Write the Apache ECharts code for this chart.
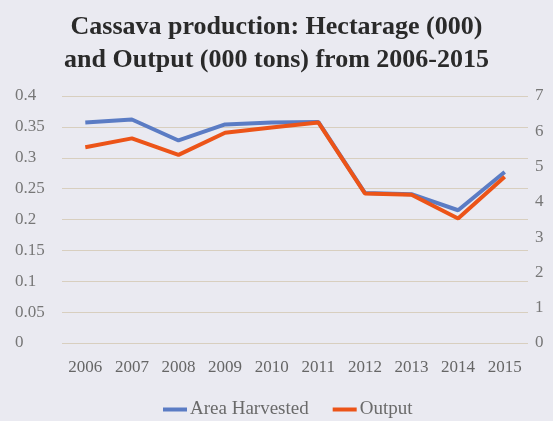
<!DOCTYPE html>
<html><head><meta charset="utf-8">
<script src="https://cdn.jsdelivr.net/npm/echarts@6/dist/echarts.min.js"></script>
<style>html,body{margin:0;padding:0;background:#eaeaf1;}#c{width:553px;height:421px;}</style>
</head><body><div id="c"></div>
<script>
const years = ['2006','2007','2008','2009','2010','2011','2012','2013','2014','2015'];
const areaHarvested = [0.357, 0.362, 0.328, 0.354, 0.357, 0.358, 0.243, 0.241, 0.215, 0.277];
const output = [5.55, 5.80, 5.33, 5.96, 6.11, 6.25, 4.24, 4.20, 3.53, 4.71];
const leftTicks = [0, 0.05, 0.1, 0.15, 0.2, 0.25, 0.3, 0.35, 0.4];
const rightTicks = [0, 1, 2, 3, 4, 5, 6, 7];

const serif = '"Liberation Serif", "DejaVu Serif", serif';
const chart = echarts.init(document.getElementById('c'));
chart.setOption({
  backgroundColor: '#eaeaf1',
  animation: false,
  title: {
    text: 'Cassava production: Hectarage (000)\nand Output (000 tons) from 2006-2015',
    left: 'center', top: 6,
    textStyle: {fontFamily: serif, fontWeight: 'bold', fontSize: 26, lineHeight: 33, color: '#2a2a2a'}
  },
  legend: {
    bottom: -3, left: 158, itemWidth: 24, itemHeight: 4, itemGap: 24,
    icon: 'rect',
    textStyle: {fontFamily: serif, fontSize: 19, color: '#6a6a6a', padding: [0, 0, 0, -2]},
    data: ['Area Harvested', 'Output']
  },
  grid: {left: 62, right: 25, top: 96, bottom: 78},
  xAxis: {
    type: 'category', data: years, boundaryGap: true,
    axisLine: {show: false}, axisTick: {show: false},
    axisLabel: {fontFamily: serif, fontSize: 17, color: '#666', margin: 16, interval: 0}
  },
  yAxis: [{
    type: 'value', min: 0, max: 0.4, interval: 0.05,
    axisLabel: {fontFamily: serif, fontSize: 17, color: '#777', margin: 47, align: 'left',
      formatter: v => { const t = leftTicks.find(x => Math.abs(x - v) < 1e-9); return t === undefined ? '' : String(t); }},
    axisLine: {show: false}, axisTick: {show: false},
    splitLine: {lineStyle: {color: '#d8cfbf', width: 1}}
  }, {
    type: 'value', min: 0, max: 7, interval: 1,
    axisLabel: {fontFamily: serif, fontSize: 17, color: '#777', margin: 7,
      formatter: v => { const t = rightTicks.find(x => Math.abs(x - v) < 1e-9); return t === undefined ? '' : String(t); }},
    axisLine: {show: false}, axisTick: {show: false},
    splitLine: {show: false}
  }],
  series: [{
    name: 'Area Harvested', type: 'line', yAxisIndex: 0, data: areaHarvested,
    symbol: 'none', color: '#5b7cc4', lineStyle: {width: 4, color: '#5b7cc4'}
  }, {
    name: 'Output', type: 'line', yAxisIndex: 1, data: output,
    symbol: 'none', color: '#ec5418', lineStyle: {width: 4, color: '#ec5418'}
  }]
});
</script></body></html>
